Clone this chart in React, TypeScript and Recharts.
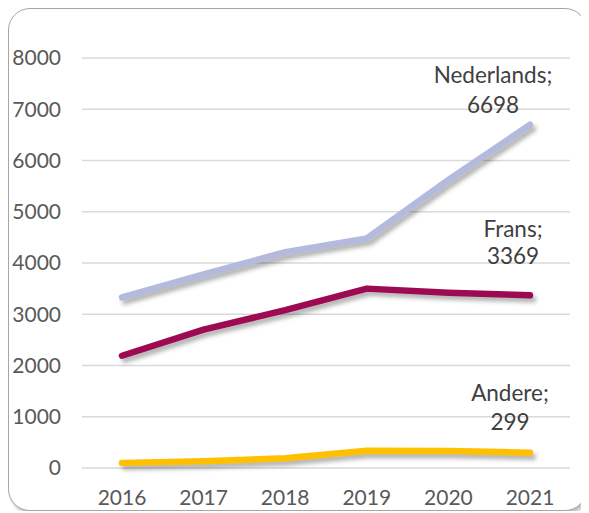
import React from "react";
import { LineChart, Line, XAxis, YAxis, CartesianGrid, LabelList } from "recharts";

const years = ["2016", "2017", "2018", "2019", "2020", "2021"];
const nederlands = [3330, 3780, 4210, 4480, 5620, 6698];
const frans = [2190, 2700, 3080, 3500, 3420, 3369];
const andere = [100, 130, 190, 335, 330, 299];
const yTicks = [0, 1000, 2000, 3000, 4000, 5000, 6000, 7000, 8000];

const data = years.map((y, i) => ({
  year: y,
  Nederlands: nederlands[i],
  Frans: frans[i],
  Andere: andere[i],
}));

const FONT = "Lato, 'Open Sans', sans-serif";

const makeLabel = (name: string, dx: number, dy1: number, dy2: number) => (props: any) => {
  const { x, y, value, index } = props;
  if (index !== years.length - 1) return null;
  return (
    <g>
      <text x={x + dx} y={y + dy1} textAnchor="middle" dominantBaseline="central" fill="#404040" fontSize={22.5} fontFamily={FONT}>
        {name};
      </text>
      <text x={x + dx} y={y + dy2} textAnchor="middle" dominantBaseline="central" fill="#404040" fontSize={22.5} fontFamily={FONT}>
        {value}
      </text>
    </g>
  );
};

export default function App() {
  return (
    <div
      style={{
        width: 577,
        height: 501,
        border: "1.5px solid #a6a6a6",
        borderRadius: 22,
        boxShadow: "2px 3px 3px rgba(0,0,0,0.25)",
        background: "#fff",
        overflow: "hidden",
      }}
    >
      <style>{`.recharts-line-curve { filter: drop-shadow(3px 4px 2px rgba(0,0,0,0.3)); }`}</style>
      <LineChart width={577} height={501} data={data} margin={{ top: 49, right: 16, left: 0, bottom: 0 }}>
        <CartesianGrid vertical={false} stroke="#d9d9d9" strokeWidth={1.5} />
        <XAxis
          dataKey="year"
          axisLine={false}
          tickLine={false}
          tickSize={0}
          tickMargin={22}
          height={42}
          padding={{ left: 40, right: 40 }}
          tick={{ fill: "#595959", fontSize: 21, fontFamily: FONT }}
        />
        <YAxis
          domain={[0, 8000]}
          ticks={yTicks}
          axisLine={false}
          tickLine={false}
          tickSize={0}
          tickMargin={21}
          width={73}
          tick={{ fill: "#595959", fontSize: 21, fontFamily: FONT }}
        />
        <Line dataKey="Nederlands" stroke="#b4bade" strokeWidth={6.5} dot={false} strokeLinecap="round" strokeLinejoin="round" isAnimationActive={false}>
          <LabelList dataKey="Nederlands" content={makeLabel("Nederlands", -37, -50, -20)} />
        </Line>
        <Line dataKey="Frans" stroke="#9e0a52" strokeWidth={6.5} dot={false} strokeLinecap="round" strokeLinejoin="round" isAnimationActive={false}>
          <LabelList dataKey="Frans" content={makeLabel("Frans", -17, -67, -40)} />
        </Line>
        <Line dataKey="Andere" stroke="#ffc000" strokeWidth={6.5} dot={false} strokeLinecap="round" strokeLinejoin="round" isAnimationActive={false}>
          <LabelList dataKey="Andere" content={makeLabel("Andere", -20, -60, -31)} />
        </Line>
      </LineChart>
    </div>
  );
}
